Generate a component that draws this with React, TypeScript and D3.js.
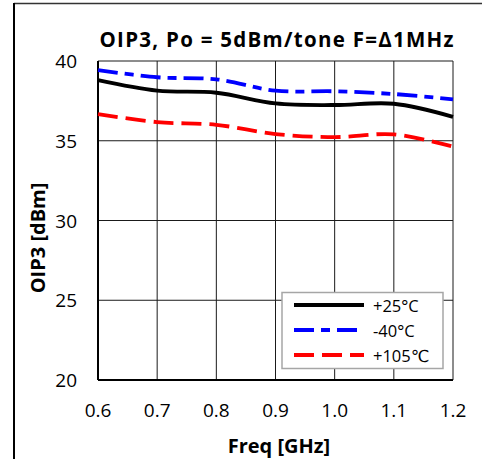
import React from "react";
import * as d3 from "d3";

// Frequency sweep (GHz) and OIP3 readings (dBm) per temperature
const freqs = [0.6, 0.7, 0.8, 0.9, 1.0, 1.1, 1.2];
const oip3At25 = [38.8, 38.14, 38.01, 37.34, 37.24, 37.32, 36.5];
const oip3AtMinus40 = [39.43, 38.98, 38.85, 38.14, 38.1, 37.93, 37.6];
const oip3At105 = [36.67, 36.17, 36.0, 35.42, 35.23, 35.4, 34.63];

const xTicks = [0.6, 0.7, 0.8, 0.9, 1.0, 1.1, 1.2];
const yTicks = [20, 25, 30, 35, 40];

const seriesNames = ["+25°C", "-40°C", "+105℃"];
const seriesColors = ["#000000", "#0000ff", "#ff0000"];
const seriesDashes = ["", "20 7 9 7", "20 8"];

const W = 482;
const H = 459;
const plot = { left: 98, right: 453, top: 61, bottom: 380 };
const FONT = "'Open Sans', 'DejaVu Sans', sans-serif";

export default function App() {
  const x = d3.scaleLinear().domain([0.6, 1.2]).range([plot.left, plot.right]);
  const y = d3.scaleLinear().domain([20, 40]).range([plot.bottom, plot.top]);

  const series = [oip3At25, oip3AtMinus40, oip3At105];
  const line = d3
    .line<number>()
    .x((_, i) => x(freqs[i]))
    .y((v) => y(v))
    .curve(d3.curveCatmullRom.alpha(0.5));

  const legend = { x: 282, y: 292.5, w: 161, h: 76 };

  return (
    <svg
      width={W}
      height={H}
      style={{ position: "fixed", left: 0, top: 0, background: "#fff" }}
    >
      {/* outer chart frame */}
      <line x1={14} y1={3.5} x2={W} y2={3.5} stroke="#333" strokeWidth={1.5} />
      <line x1={14} y1={3} x2={14} y2={H} stroke="#000" strokeWidth={2} />

      {/* title */}
      <text
        x={(plot.left + plot.right) / 2 + 1}
        y={47}
        textAnchor="middle"
        fontFamily={FONT}
        fontWeight="bold"
        fontSize={20.5}
        textLength={354}
        lengthAdjust="spacing"
        fill="#000"
      >
        OIP3, Po = 5dBm/tone F=Δ1MHz
      </text>

      {/* grid */}
      {yTicks.map((t) => (
        <line
          key={"gy" + t}
          x1={plot.left}
          x2={plot.right}
          y1={y(t)}
          y2={y(t)}
          stroke="#1a1a1a"
          strokeWidth={1}
        />
      ))}
      {xTicks.map((t) => (
        <line
          key={"gx" + t}
          x1={x(t)}
          x2={x(t)}
          y1={plot.top}
          y2={plot.bottom}
          stroke="#1a1a1a"
          strokeWidth={1}
        />
      ))}
      {/* axes */}
      <line x1={plot.left} x2={plot.left} y1={plot.top} y2={plot.bottom} stroke="#000" strokeWidth={2} />
      <line x1={plot.left} x2={plot.right} y1={plot.bottom} y2={plot.bottom} stroke="#000" strokeWidth={2} />

      {/* tick labels */}
      {yTicks.map((t) => (
        <text
          key={"ty" + t}
          x={77}
          y={y(t) + 7}
          textAnchor="end"
          fontFamily={FONT}
          fontSize={19}
          fill="#000"
        >
          {t}
        </text>
      ))}
      {xTicks.map((t) => (
        <text
          key={"tx" + t}
          x={x(t)}
          y={417}
          textAnchor="middle"
          fontFamily={FONT}
          fontSize={19}
          fill="#000"
        >
          {t.toFixed(1)}
        </text>
      ))}

      {/* axis titles */}
      <text
        x={279}
        y={453}
        textAnchor="middle"
        fontFamily={FONT}
        fontWeight="bold"
        fontSize={20}
        fill="#000"
      >
        Freq [GHz]
      </text>
      <text
        transform={`translate(45,238) rotate(-90)`}
        textAnchor="middle"
        fontFamily={FONT}
        fontWeight="bold"
        fontSize={20}
        fill="#000"
      >
        OIP3 [dBm]
      </text>

      {/* series */}
      {series.map((s, i) => (
        <path
          key={"s" + i}
          d={line(s) || ""}
          fill="none"
          stroke={seriesColors[i]}
          strokeWidth={3.8}
          strokeDasharray={seriesDashes[i] || undefined}
        />
      ))}

      {/* legend */}
      <rect
        x={legend.x}
        y={legend.y}
        width={legend.w}
        height={legend.h}
        fill="#fff"
        stroke="#a6a6a6"
        strokeWidth={1.5}
      />
      {seriesNames.map((name, i) => {
        const cy = 305 + i * 25;
        return (
          <g key={"l" + i}>
            <line
              x1={294}
              x2={364}
              y1={cy}
              y2={cy}
              stroke={seriesColors[i]}
              strokeWidth={3.8}
              strokeDasharray={seriesDashes[i] || undefined}
            />
            <text
              x={373}
              y={cy + 6.5}
              fontFamily={FONT}
              fontSize={16.5}
              fill="#000"
            >
              {name}
            </text>
          </g>
        );
      })}
    </svg>
  );
}
